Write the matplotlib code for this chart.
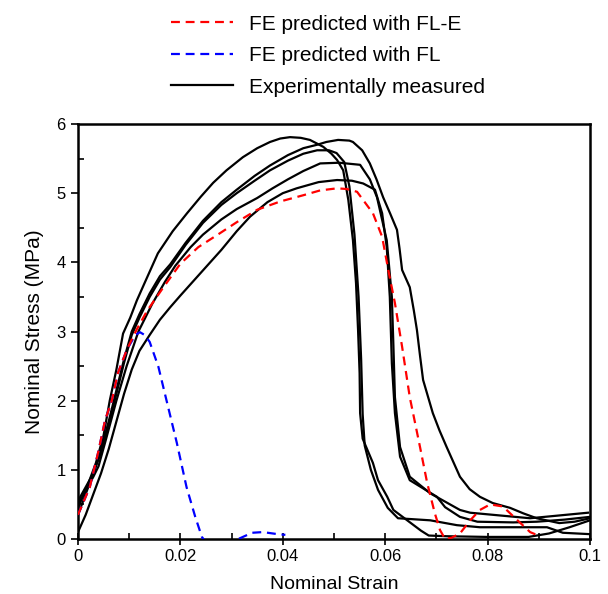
import matplotlib
matplotlib.use("Agg")
import matplotlib.pyplot as plt
from matplotlib.ticker import MultipleLocator, FuncFormatter

plt.rcParams['font.family'] = ['Liberation Sans', 'DejaVu Sans']

# ---- data ----
fle_x = [0, 0.0023, 0.0039, 0.0053, 0.0066, 0.0078, 0.0095, 0.0114, 0.0135, 0.0165, 0.02, 0.0235,
         0.0277, 0.031, 0.035, 0.0395, 0.044, 0.0473, 0.0506, 0.0525, 0.0545, 0.0557, 0.0576, 0.0594,
         0.0606, 0.0619, 0.0633, 0.0648, 0.0668, 0.0682, 0.0697, 0.0707, 0.0717, 0.073, 0.0746, 0.0766,
         0.0785, 0.0805, 0.083, 0.0857, 0.0883, 0.0899]
fle_y = [0.35, 0.75, 1.24, 1.72, 2.0, 2.4, 2.73, 3.02, 3.3, 3.62, 3.98, 4.22, 4.42, 4.58, 4.76, 4.88,
         4.97, 5.04, 5.07, 5.06, 5.02, 4.9, 4.71, 4.37, 3.89, 3.41, 2.78, 2.05, 1.33, 0.81, 0.37, 0.13,
         0.0, 0.02, 0.08, 0.27, 0.42, 0.5, 0.47, 0.28, 0.1, 0.05]

fl_x = [0, 0.0023, 0.0039, 0.0053, 0.0066, 0.0078, 0.0095, 0.0112, 0.0121, 0.013, 0.014, 0.0157,
        0.0173, 0.0193, 0.0212, 0.0229, 0.0242, 0.0255, 0.029, 0.0313, 0.034, 0.0361, 0.039, 0.0405]
fl_y = [0.35, 0.75, 1.24, 1.72, 2.0, 2.4, 2.73, 2.95, 2.99, 2.95, 2.85, 2.49, 2.0, 1.39, 0.75, 0.32,
        0.03, -0.1, -0.1, 0.0, 0.09, 0.1, 0.07, 0.06]

expA_x = [0, 0.002, 0.0035, 0.005, 0.0062, 0.0075, 0.0088, 0.0102, 0.0115, 0.013, 0.0156, 0.0185,
          0.0213, 0.024, 0.0264, 0.029, 0.0322, 0.035, 0.0375, 0.0395, 0.0414, 0.0435, 0.0453, 0.0479,
          0.0495, 0.0506, 0.0518, 0.0528, 0.0537, 0.0543, 0.0547, 0.055, 0.0551, 0.0556, 0.0576,
          0.0586, 0.0604, 0.0616, 0.0643, 0.067, 0.0685, 0.072, 0.08, 0.088, 0.092, 0.096, 0.1]
expA_y = [0.45, 0.8, 1.1, 1.5, 2.0, 2.45, 2.97, 3.2, 3.45, 3.7, 4.13, 4.45, 4.71, 4.95, 5.15, 5.33,
          5.52, 5.65, 5.74, 5.79, 5.81, 5.80, 5.77, 5.67, 5.57, 5.48, 5.33, 4.9, 4.32, 3.7, 3.02, 2.4,
          1.82, 1.45, 1.10, 0.85, 0.61, 0.42, 0.27, 0.12, 0.05, 0.04, 0.03, 0.03, 0.08, 0.17, 0.27]

expB_x = [0, 0.0015, 0.003, 0.0045, 0.006, 0.0075, 0.009, 0.0105, 0.012, 0.014, 0.016, 0.018, 0.021,
          0.0244, 0.028, 0.031, 0.0345, 0.0375, 0.041, 0.044, 0.0467, 0.049, 0.0505, 0.052, 0.053,
          0.054, 0.0548, 0.0553, 0.0556, 0.056, 0.0572, 0.0586, 0.0605, 0.0625, 0.0688, 0.074, 0.0785,
          0.085, 0.0916, 0.0947, 0.1]
expB_y = [0.55, 0.75, 0.95, 1.25, 1.65, 2.1, 2.55, 2.95, 3.2, 3.5, 3.75, 3.93, 4.25, 4.57, 4.83, 5.0,
          5.18, 5.33, 5.47, 5.57, 5.62, 5.62, 5.58, 5.45, 5.1, 4.4, 3.5, 2.6, 1.8, 1.35, 1.0, 0.71,
          0.45, 0.3, 0.27, 0.2, 0.17, 0.17, 0.17, 0.09, 0.07]

expC_x = [0, 0.0015, 0.003, 0.0045, 0.006, 0.0075, 0.009, 0.0105, 0.012, 0.014, 0.016, 0.018, 0.021,
          0.0244, 0.028, 0.031, 0.0345, 0.0375, 0.041, 0.044, 0.0467, 0.0485, 0.0508, 0.053, 0.0537,
          0.0555, 0.057, 0.0583, 0.0596, 0.061, 0.0623, 0.0628, 0.0633, 0.0648, 0.0656, 0.0662,
          0.0668, 0.0674, 0.0693, 0.0706, 0.072, 0.0746, 0.0765, 0.0785, 0.081, 0.0844, 0.087,
          0.0896, 0.094, 0.097, 0.1]
expC_y = [0.35, 0.65, 0.95, 1.3, 1.7, 2.15, 2.6, 3.0, 3.25, 3.55, 3.8, 3.97, 4.28, 4.6, 4.87, 5.05,
          5.25, 5.4, 5.55, 5.65, 5.70, 5.74, 5.77, 5.76, 5.74, 5.62, 5.43, 5.2, 4.94, 4.7, 4.47, 4.2,
          3.89, 3.64, 3.3, 3.02, 2.65, 2.3, 1.82, 1.57, 1.33, 0.9, 0.72, 0.61, 0.52, 0.45, 0.37, 0.30,
          0.23, 0.25, 0.3]

expD_x = [0, 0.0015, 0.003, 0.004, 0.0055, 0.0075, 0.0095, 0.0118, 0.0145, 0.017, 0.019, 0.022,
          0.0244, 0.028, 0.031, 0.035, 0.038, 0.041, 0.044, 0.0473, 0.051, 0.0551, 0.057, 0.0584,
          0.0603, 0.0613, 0.0616, 0.0619, 0.0629, 0.0648, 0.0688, 0.0746, 0.0766, 0.0883, 0.0996]
expD_y = [0.5, 0.7, 0.9, 1.05, 1.45, 2.0, 2.5, 3.0, 3.4, 3.72, 3.95, 4.22, 4.4, 4.62, 4.77, 4.93,
          5.07, 5.2, 5.32, 5.43, 5.44, 5.41, 5.2, 4.94, 4.32, 3.5, 2.8, 2.05, 1.33, 0.9, 0.66, 0.42,
          0.38, 0.30, 0.38]

expE_x = [0, 0.0015, 0.003, 0.0045, 0.006, 0.0075, 0.009, 0.0105, 0.012, 0.014, 0.016, 0.018, 0.02,
          0.024, 0.028, 0.031, 0.0336, 0.037, 0.04, 0.0427, 0.047, 0.0506, 0.0535, 0.0557, 0.058,
          0.0594, 0.0603, 0.0609, 0.0613, 0.0619, 0.0629, 0.0648, 0.0701, 0.0717, 0.0746, 0.078,
          0.085, 0.0896, 0.095, 0.1]
expE_y = [0.1, 0.35, 0.65, 0.95, 1.3, 1.7, 2.1, 2.45, 2.72, 2.95, 3.17, 3.35, 3.52, 3.85, 4.18, 4.45,
          4.66, 4.87, 5.0, 5.07, 5.16, 5.19, 5.18, 5.14, 5.05, 4.71, 4.22, 3.5, 2.54, 1.82, 1.19, 0.85,
          0.61, 0.46, 0.32, 0.25, 0.24, 0.25, 0.28, 0.32]

exp_curves = [(expA_x, expA_y), (expB_x, expB_y), (expC_x, expC_y), (expD_x, expD_y), (expE_x, expE_y)]

x_ticks = [0, 0.02, 0.04, 0.06, 0.08, 0.1]
y_ticks = [0, 1, 2, 3, 4, 5, 6]

# ---- figure ----
fig = plt.figure(figsize=(6.08, 5.94), dpi=100)
ax = fig.add_axes([78/608, 55/594, 512/608, 415/594])

exp_lines = []
for xs, ys in exp_curves:
    ln, = ax.plot(xs, ys, color='black', lw=1.6, zorder=2)
    exp_lines.append(ln)
l_fl, = ax.plot(fl_x, fl_y, color='#0000ff', lw=1.6, ls=(0, (4, 2.6)), zorder=3)
l_fle, = ax.plot(fle_x, fle_y, color='#ff0000', lw=1.6, ls=(0, (4, 2.6)), zorder=3)

ax.set_xlim(0, 0.1)
ax.set_ylim(0, 6)
ax.set_xticks(x_ticks)
ax.set_yticks(y_ticks)
ax.xaxis.set_minor_locator(MultipleLocator(0.01))
ax.yaxis.set_minor_locator(MultipleLocator(0.5))
fmt = FuncFormatter(lambda v, p: ('%g' % round(v, 4)))
ax.xaxis.set_major_formatter(fmt)
ax.yaxis.set_major_formatter(fmt)
ax.tick_params(axis='x', which='major', direction='inout', length=9, width=1.2, labelsize=12, pad=3)
ax.tick_params(axis='x', which='minor', direction='in', length=4, width=1.2)
ax.tick_params(axis='y', which='major', direction='out', length=5, width=1.2, labelsize=12, pad=4)
ax.tick_params(axis='y', which='minor', direction='in', length=4, width=1.2)
for s in ax.spines.values():
    s.set_linewidth(1.8)

ax.set_xlabel('Nominal Strain', fontsize=14, labelpad=8)
ax.set_ylabel('Nominal Stress (MPa)', fontsize=15, labelpad=9)

handles = [l_fle, l_fl, exp_lines[0]]
labels = ['FE predicted with FL-E', 'FE predicted with FL', 'Experimentally measured']
fig.legend(handles, labels, loc='upper left', bbox_to_anchor=(154/608, 1 + 2/594),
           frameon=False, fontsize=15, handlelength=3.0, handletextpad=0.75,
           labelspacing=0.6, borderpad=0.3)

fig.savefig('out.png', dpi=100)
